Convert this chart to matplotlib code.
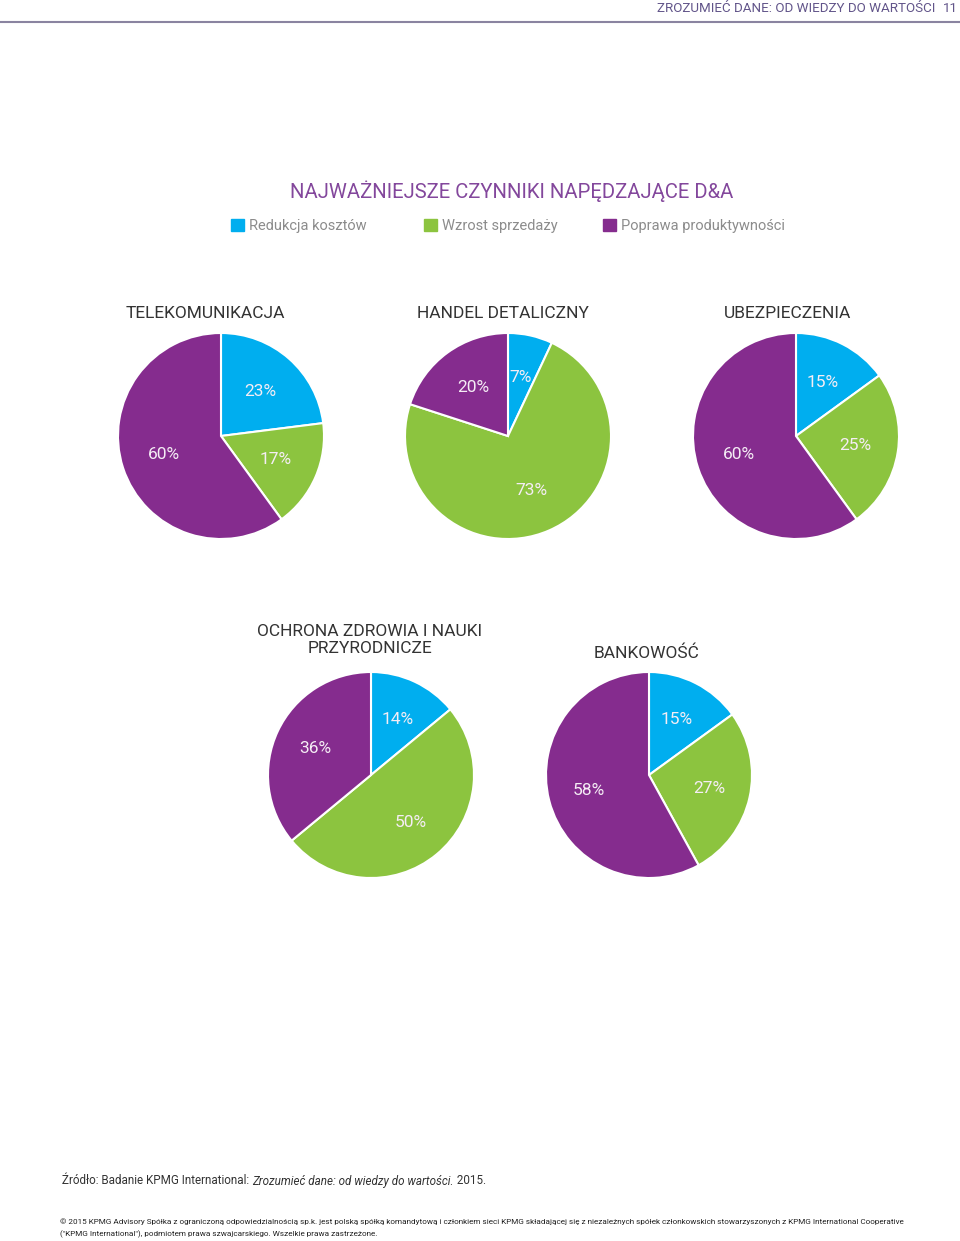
import matplotlib
matplotlib.use('Agg')
import matplotlib.pyplot as plt
from matplotlib.patches import Rectangle

W, H = 960, 1241

# data
factors = ['Redukcja kosztów', 'Wzrost sprzedaży', 'Poprawa produktywności']
sectors = ['TELEKOMUNIKACJA', 'HANDEL DETALICZNY', 'UBEZPIECZENIA',
           'OCHRONA ZDROWIA I NAUKI\nPRZYRODNICZE', 'BANKOWOŚĆ']
reduction = [23, 7, 15, 14, 15]
sales = [17, 73, 25, 50, 27]
productivity = [60, 20, 60, 36, 58]

colors = ['#00AEEF', '#8CC43F', '#852C8E']
title_color = '#83479C'
header_color = '#62558A'
font = ['Roboto', 'DejaVu Sans']

plt.rcParams['font.family'] = font

fig = plt.figure(figsize=(W / 100, H / 100), dpi=100)

def px(x, y):
    return x / W, 1 - y / H

# header
fig.text(*px(935, 8), 'ZROZUMIEĆ DANE: OD WIEDZY DO WARTOŚCI', ha='right', va='center',
         fontsize=9.6, color=header_color)
fig.text(*px(958, 8), '11', ha='right', va='center', fontsize=9.6, color=header_color)
fig.add_artist(plt.Line2D([0, 1], [1 - 22 / H] * 2, color='#8A84A0', lw=1.5))

# title
fig.text(*px(512, 191), 'NAJWAŻNIEJSZE CZYNNIKI NAPĘDZAJĄCE D&A', ha='center', va='center',
         fontsize=14.6, color=title_color)

# legend
leg_x = [231, 424, 603]
for lx, lab, c in zip(leg_x, factors, colors):
    fig.add_artist(Rectangle(px(lx, 231), 13 / W, 12 / H, color=c, transform=fig.transFigure))
    fig.text(*px(lx + 18, 226), lab, ha='left', va='center', fontsize=10.5,
             color='#8C8C8C')

# pies
centers = [(221, 436), (508, 436), (796, 436), (371, 775), (649, 775)]
title_pos = [(205, 313), (503, 313), (788, 313), (370, 640), (647, 653)]
pct_dist = [0.58, 0.58, 0.58, 0.6, 0.6]
R = 103
for i, name in enumerate(sectors):
    cx, cy = centers[i]
    x0, y0 = px(cx - R, cy + R)
    ax = fig.add_axes([x0, y0, 2 * R / W, 2 * R / H])
    vals = [reduction[i], sales[i], productivity[i]]
    wedges, texts, autotexts = ax.pie(
        vals, colors=colors, startangle=90, counterclock=False, radius=1,
        autopct='%d%%', pctdistance=pct_dist[i],
        wedgeprops=dict(edgecolor='white', linewidth=1.5),
        textprops=dict(color='#F5EDF5', fontsize=12.5))
    ax.set_xlim(-1, 1)
    ax.set_ylim(-1, 1)
    ax.set_aspect('equal')
    ax.axis('off')
    tx, ty = title_pos[i]
    fig.text(*px(tx, ty), name, ha='center', va='center', fontsize=12.5,
             color='#333333', linespacing=1.1)

# source
fig.canvas.draw()
r = fig.canvas.get_renderer()
x = 62
parts = [('Źródło: Badanie KPMG International: ', 'normal'),
         ('Zrozumieć dane: od wiedzy do wartości.', 'italic'),
         (' 2015.', 'normal')]
for s, st in parts:
    t = fig.text(*px(x, 1181), s, ha='left', va='center', fontsize=8.4,
                 color='#333333', style=st)
    x += t.get_window_extent(r).width

line1 = ('© 2015 KPMG Advisory Spółka z ograniczoną odpowiedzialnością sp.k. jest polską spółką '
         'komandytową i członkiem sieci KPMG składającej się z niezależnych spółek członkowskich '
         'stowarzyszonych z KPMG International Cooperative')
line2 = '("KPMG International"), podmiotem prawa szwajcarskiego. Wszelkie prawa zastrzeżone.'
t1 = fig.text(*px(60, 1222), line1, ha='left', va='center', fontsize=7,
              color='#222222')
w1 = t1.get_window_extent(r).width
fs = 7 * (844 / w1)
t1.set_fontsize(fs)
fig.text(*px(60, 1234), line2, ha='left', va='center', fontsize=fs,
         color='#222222')

fig.savefig('out.png', dpi=100)
